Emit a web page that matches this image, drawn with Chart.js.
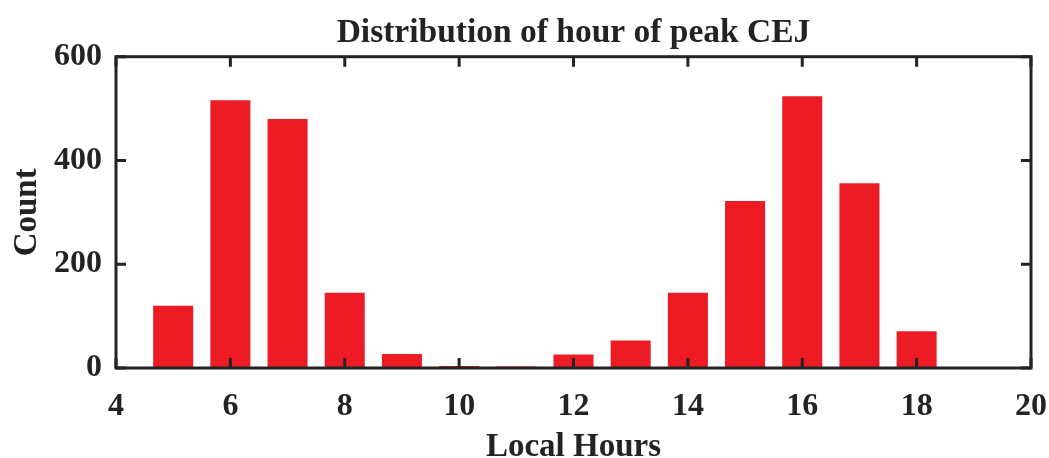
<!DOCTYPE html>
<html>
<head>
<meta charset="utf-8">
<script src="https://cdn.jsdelivr.net/npm/chart.js@4/dist/chart.umd.min.js"></script>
<style>
html,body{margin:0;padding:0;background:#fff;}
#wrap{width:1049px;height:458px;}
</style>
</head>
<body>
<div id="wrap"><canvas id="c" width="1049" height="458"></canvas></div>
<script>
const hours = [5, 6, 7, 8, 9, 10, 11, 12, 13, 14, 15, 16, 17, 18, 19];
const counts = [120, 516, 480, 145, 27, 4, 3, 26, 53, 145, 322, 524, 356, 71, 1];
const xTicks = [4, 6, 8, 10, 12, 14, 16, 18, 20];
const yTicks = [0, 200, 400, 600];

const AX = '#232323';
const FONT = '"Liberation Serif", "Times New Roman", serif';

const boxPlugin = {
  id: 'box',
  afterDatasetsDraw(chart) {
    const {ctx, chartArea: a, scales} = chart;
    ctx.save();
    ctx.strokeStyle = AX;
    ctx.lineWidth = 3;
    ctx.lineCap = 'butt';
    const tl = 10;
    ctx.beginPath();
    xTicks.forEach(v => {
      const px = scales.x.getPixelForValue(v);
      ctx.moveTo(px, a.bottom); ctx.lineTo(px, a.bottom - tl);
      ctx.moveTo(px, a.top); ctx.lineTo(px, a.top + tl);
    });
    yTicks.forEach(v => {
      const py = scales.y.getPixelForValue(v);
      ctx.moveTo(a.left, py); ctx.lineTo(a.left + tl, py);
      ctx.moveTo(a.right, py); ctx.lineTo(a.right - tl, py);
    });
    ctx.stroke();
    ctx.lineJoin = 'miter';
    ctx.strokeRect(a.left, a.top, a.right - a.left, a.bottom - a.top);
    ctx.restore();
  }
};

new Chart(document.getElementById('c'), {
  type: 'bar',
  data: {
    datasets: [{
      data: hours.map((h, i) => ({x: h, y: counts[i]})),
      backgroundColor: '#ED1C24',
      borderWidth: 0,
      categoryPercentage: 1.0,
      barPercentage: 0.7
    }]
  },
  options: {
    responsive: false,
    animation: false,
    devicePixelRatio: 1,
    layout: {padding: {left: 0, right: 18, top: 0, bottom: 0}},
    plugins: {
      legend: {display: false},
      tooltip: {enabled: false},
      title: {
        display: true,
        fullSize: false,
        text: 'Distribution of hour of peak CEJ',
        color: AX,
        font: {family: FONT, size: 33.5, weight: 'bold', lineHeight: 1.2},
        padding: {top: 13, bottom: 3.5}
      }
    },
    scales: {
      x: {
        type: 'linear',
        offset: false,
        min: 4, max: 20,
        afterBuildTicks(s) { s.ticks = xTicks.map(v => ({value: v})); },
        afterFit(s) { s.height = 90; s.paddingLeft = 0; s.paddingRight = 0; },
        grid: {display: false, drawTicks: false, offset: false},
        border: {display: false},
        ticks: {color: AX, font: {family: FONT, size: 32, weight: 'bold'}, padding: 20, maxRotation: 0, autoSkip: false},
        title: {display: true, text: 'Local Hours', color: AX,
                font: {family: FONT, size: 33, weight: 'bold', lineHeight: 1},
                padding: {top: 0, bottom: -6}}
      },
      y: {
        min: 0, max: 600,
        afterBuildTicks(s) { s.ticks = yTicks.map(v => ({value: v})); },
        afterFit(s) { s.width = 116; },
        grid: {display: false, drawTicks: false},
        border: {display: false},
        ticks: {color: AX, font: {family: FONT, size: 32, weight: 'bold'}, padding: 14},
        title: {display: true, text: 'Count', color: AX,
                font: {family: FONT, size: 33, weight: 'bold', lineHeight: 1},
                padding: {top: 11, bottom: 0}}
      }
    }
  },
  plugins: [boxPlugin]
});
</script>
</body>
</html>
